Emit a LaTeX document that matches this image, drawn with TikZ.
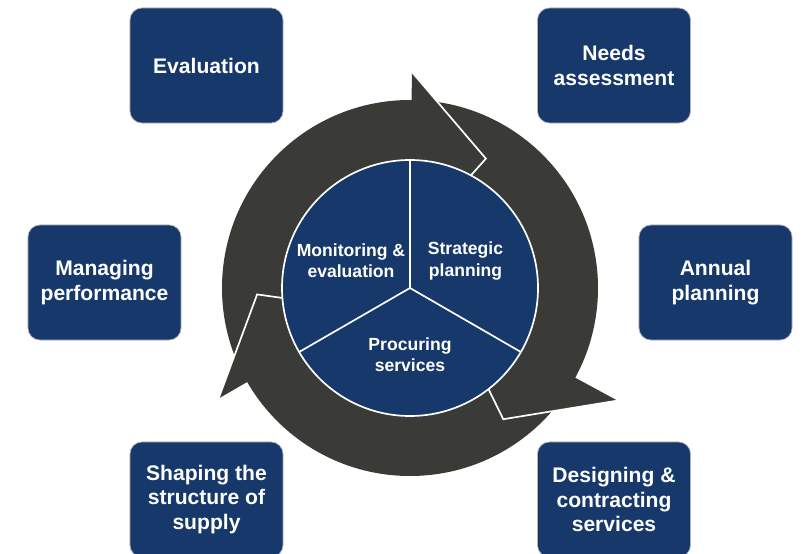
\documentclass[tikz,border=0pt]{standalone}
\usepackage{fontspec}
\setmainfont{Liberation Sans}
\definecolor{boxblue}{RGB}{22,56,106}
\definecolor{ringgrey}{RGB}{58,59,55}
\tikzset{
  stage/.style={draw=gray!60,line width=0.5pt,fill=boxblue,rounded corners=0.3cm,
    minimum width=3.825cm,minimum height=2.875cm,text=white,align=center,
    font=\bfseries\fontsize{15}{17.5}\selectfont},
  phase/.style={text=white,align=center,font=\bfseries\fontsize{12.5}{15}\selectfont},
  divider/.style={draw=white,line width=1.2pt}
}

\begin{document}
\begin{tikzpicture}[x=0.025cm,y=0.025cm]
  \useasboundingbox (0,0) rectangle (802,553);
  \clip (0,0) rectangle (802,553);
  \coordinate (c) at (410,265);
  % ring with three arrow heads
  \fill[ringgrey] (c) circle (188);
  \foreach \back/\rb/\tip/\rt in {89.5/216/59.6/150,-28.5/236/-54.6/161,210/221/182.4/153}
  {
    \fill[ringgrey,shift={(c)}] (\back:\rb) -- (\tip:\rt) -- (\back:45) -- cycle;
    \draw[divider,shift={(c)}] (\back:\rb) -- (\tip:\rt) -- (\back:45);
  }
  % inner pie
  \filldraw[divider,fill=boxblue] (c) circle (128);
  \foreach \a in {90,-30,210}
    \draw[divider] (c) -- +(\a:128);
  \node[phase] (monitoring) at (351,292) {Monitoring \&\\evaluation};
  \node[phase] (strategic) at (465.5,292) {Strategic\\planning};
  \node[phase] (procuring) at (410,198) {Procuring\\services};
  % outer stages
  \node[stage] (evaluation) at (206.5,487.5) {Evaluation};
  \node[stage] (needs) at (614,487.5) {Needs\\assessment};
  \node[stage] (annual) at (715.5,270.5) {Annual\\planning};
  \node[stage] (designing) at (614,53.5) {Designing \&\\contracting\\services};
  \node[stage] (shaping) at (206.5,53.5) {Shaping the\\structure of\\supply};
  \node[stage] (managing) at (104.5,270.5) {Managing\\performance};
\end{tikzpicture}
\end{document}
